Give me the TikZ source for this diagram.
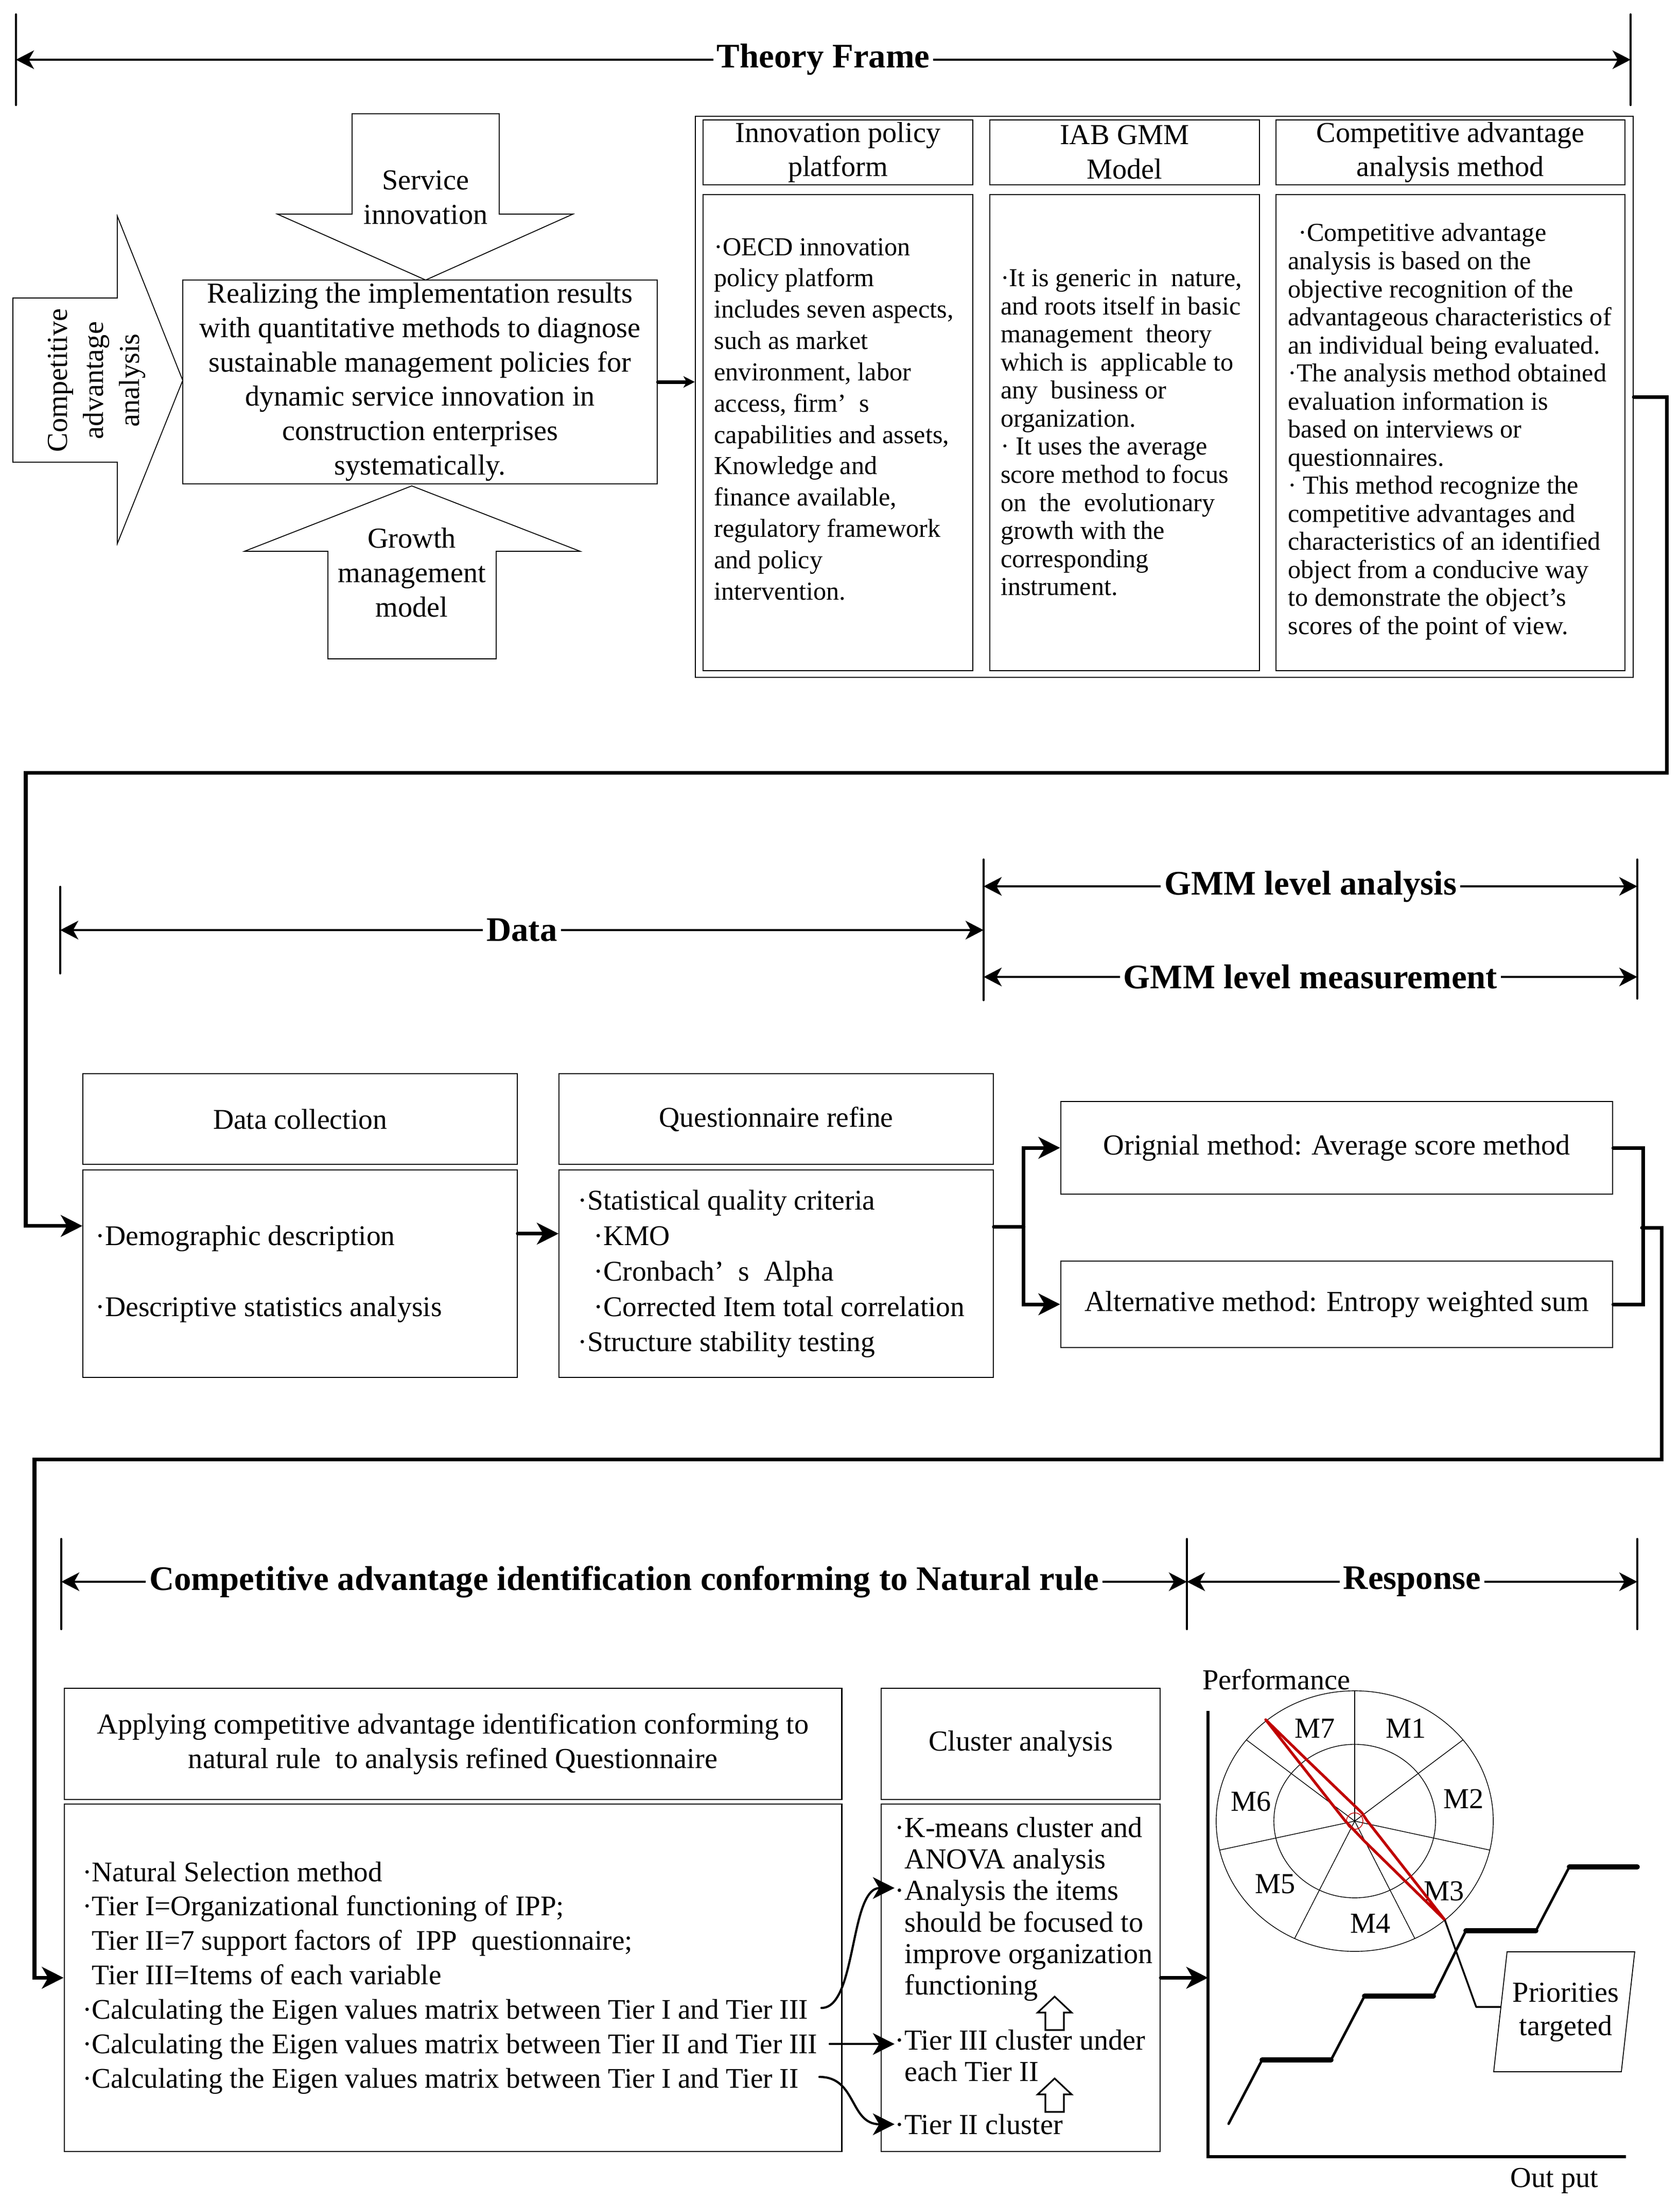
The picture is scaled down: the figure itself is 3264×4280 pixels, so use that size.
\documentclass[tikz,border=0pt]{standalone}
\usepackage{fontspec}
\setmainfont{Liberation Serif}
\usepackage{xcolor}
\usetikzlibrary{arrows.meta,positioning}
\definecolor{radarred}{RGB}{192,0,0}
\tikzset{font={\fontsize{16pt}{19pt}\selectfont}}

\begin{document}
\begin{tikzpicture}[x=0.01cm,y=-0.01cm,
    >={Stealth[length=0.42cm,width=0.42cm,inset=0.12cm]},
    box node/.style={draw,line width=0.6pt,inner sep=0pt,align=center},
    text node/.style={inner sep=0pt,align=left},
    top text/.style={text node,font={\fontsize{14.3pt}{17.3pt}\selectfont}},
    tight text/.style={text node,font={\fontsize{14.3pt}{15.5pt}\selectfont}},
    row text/.style={text node,font={\fontsize{15.8pt}{19.6pt}\selectfont}},
    ap text/.style={text node,font={\fontsize{15.7pt}{19pt}\selectfont}},
    cl text/.style={text node,font={\fontsize{16pt}{17.4pt}\selectfont}},
    conn/.style={line width=2pt,line cap=round},
    small tip/.style={->,>={Stealth[length=0.22cm,width=0.22cm,inset=0.06cm]}},
    curve/.style={line width=1.2pt,line cap=round},
    bar/.style={line width=1.2pt,line cap=round},
    dim/.style={line width=1.3pt,>={Stealth[length=0.35cm,width=0.36cm,inset=0.1cm]},<->},
    title node/.style={midway,fill=white,inner xsep=2pt,inner ysep=1pt,
      font={\fontsize{19pt}{22pt}\selectfont\bfseries}}]

\useasboundingbox (0,0) rectangle (3264,4280);

% theory frame
\coordinate (tf1) at (31,116);
\coordinate (tf2) at (3168,116);
\draw[bar] (31,28) -- (31,204) (3168,28) -- (3168,204);
\draw[dim] (tf1) -- (tf2) node[title node] (tf) {Theory Frame};

% block arrows round the main box
\draw[line width=0.5pt] (25,579) -- (228,579) -- (228,420) -- (355,739) -- (228,1056) -- (228,898) -- (25,898) -- cycle;
\node[rotate=90,inner sep=0pt,align=center,font={\fontsize{16pt}{20pt}\selectfont}] (caa) at (188,739) {Competitive\\advantage\\analysis};
\draw[line width=0.5pt] (684,221) -- (970,221) -- (970,416) -- (1113,416) -- (827,544) -- (539,416) -- (684,416) -- cycle;
\node[inner sep=0pt,align=center] (si) at (827,384) {Service\\innovation};
\draw[line width=0.5pt] (800,944) -- (1127,1071) -- (964,1071) -- (964,1280) -- (637,1280) -- (637,1071) -- (475,1071) -- cycle;
\node[inner sep=0pt,align=center] (gm) at (800,1112) {Growth\\management\\model};

\node[box node,minimum width=9.22cm,minimum height=3.95cm] (main) at (816,742)
  {Realizing the implementation results\\with quantitative methods to diagnose\\sustainable management policies for\\dynamic service innovation in\\construction enterprises\\systematically.};

% theory boxes
\node[box node,minimum width=18.21cm,minimum height=10.90cm] (frame) at (2262,771) {};
\node[box node,minimum width=5.24cm,minimum height=1.26cm] (ipphead) at (1628,296) {Innovation policy\\platform};
\node[box node,minimum width=5.23cm,minimum height=1.26cm] (iabhead) at (2185,296) {IAB GMM\\Model};
\node[box node,minimum width=6.78cm,minimum height=1.26cm] (camhead) at (2818,296) {Competitive advantage\\analysis method};
\node[box node,minimum width=5.24cm,minimum height=9.24cm,below=0.17cm of ipphead] (ippbody) {};
\node[box node,minimum width=5.23cm,minimum height=9.24cm,below=0.17cm of iabhead] (iabbody) {};
\node[box node,minimum width=6.78cm,minimum height=9.24cm,below=0.17cm of camhead] (cambody) {};

\node[top text,anchor=west] (ipptext) at ([xshift=0.22cm,yshift=0.26cm]ippbody.west)
  {·OECD innovation\\policy platform\\includes seven aspects,\\such as market\\environment, labor\\access, firm’\enspace s\\capabilities and assets,\\Knowledge and\\finance available,\\regulatory framework\\and policy\\intervention.};
\node[tight text,anchor=west] (iabtext) at ([xshift=0.21cm]iabbody.west)
  {·It is generic in\ \ nature,\\and roots itself in basic\\management\ \ theory\\which is\ \ applicable to\\any\ \ business or\\organization.\\· It uses the average\\score method to focus\\on\ \ the\ \ evolutionary\\growth with the\\corresponding\\instrument.};
\node[tight text,anchor=west] (camtext) at ([xshift=0.24cm,yshift=0.02cm]cambody.west)
  {\hspace*{0.2cm}·Competitive advantage\\analysis is based on the\\objective recognition of the\\advantageous characteristics of\\an individual being evaluated.\\·The analysis method obtained\\evaluation information is\\based on interviews or\\questionnaires.\\· This method recognize the\\competitive advantages and\\characteristics of an identified\\object from a conducive way\\to demonstrate the object’s\\scores of the point of view.};

\draw[conn,small tip] (main.east) -- (main.east -| frame.west);

% data and GMM level
\coordinate (d1) at (117,1807);
\coordinate (d2) at (1911,1807);
\coordinate (g1) at (1911,1722);
\coordinate (g2) at (3181,1722);
\coordinate (g3) at (1911,1898);
\coordinate (g4) at (3181,1898);
\draw[bar] (117,1723) -- (117,1891) (1911,1670) -- (1911,1943) (3181,1670) -- (3181,1940);
\draw[dim] (d1) -- (d2) node[title node] (data) {Data};
\draw[dim] (g1) -- (g2) node[title node] (gla) {GMM level analysis};
\draw[dim] (g3) -- (g4) node[title node] (glm) {GMM level measurement};

\node[box node,minimum width=8.43cm,minimum height=1.76cm,font={\fontsize{15.8pt}{19pt}\selectfont}] (dchead) at (583,2174) {Data collection};
\node[box node,minimum width=8.43cm,minimum height=4.03cm,below=0.09cm of dchead] (dcbody) {};
\node[row text,anchor=west] (dctext) at ([xshift=0.25cm]dcbody.west)
  {·Demographic description\\[19.6pt]·Descriptive statistics analysis};
\node[box node,minimum width=8.43cm,minimum height=1.76cm,font={\fontsize{15.8pt}{19pt}\selectfont}] (qhead) at (1508,2174) {Questionnaire refine};
\node[box node,minimum width=8.43cm,minimum height=4.03cm,below=0.09cm of qhead] (qbody) {};
\node[row text,anchor=west] (qtext) at ([xshift=0.37cm]qbody.west)
  {·Statistical quality criteria\\\hspace*{0.31cm}·KMO\\\hspace*{0.31cm}·Cronbach’\enspace s\ \ Alpha\\\hspace*{0.31cm}·Corrected Item total correlation\\·Structure stability testing};
\node[box node,minimum width=10.72cm,minimum height=1.80cm] (orig) at (2597,2230) {Orignial method: Average score method};
\node[box node,minimum width=10.72cm,minimum height=1.68cm] (alt) at (2597,2534) {Alternative method: Entropy weighted sum};

\coordinate (turn1) at (50,1501);
\draw[conn,->] (frame.east) -- ++(64,0) |- (turn1) |- ([yshift=0.93cm]dcbody.west);
\draw[conn,->] ([yshift=0.78cm]dcbody.east) -- ([yshift=0.78cm]qbody.west);
\coordinate (split) at ([xshift=0.58cm,yshift=0.91cm]qbody.east);
\draw[conn] ([yshift=0.91cm]qbody.east) -- (split);
\draw[conn,->] (split) |- (orig.west);
\draw[conn,->] (split) |- (alt.west);
\draw[conn] (orig.east) -- ++(58,0) |- (alt.east);

% identification and response
\coordinate (c1) at (119,3073);
\coordinate (c2) at (2306,3073);
\coordinate (c3) at (3181,3073);
\draw[bar] (119,2990) -- (119,3165) (2306,2990) -- (2306,3165) (3181,2990) -- (3181,3165);
\draw[dim] (c1) -- (c2) node[title node] (cai) {Competitive advantage identification conforming to Natural rule};
\draw[dim] (c2) -- (c3) node[title node] (resp) {Response};

\node[box node,minimum width=15.10cm,minimum height=2.16cm] (aphead) at (880,3388)
  {Applying competitive advantage identification conforming to\\natural rule\ \ to analysis refined Questionnaire};
\node[box node,minimum width=15.10cm,minimum height=6.74cm,below=0.07cm of aphead] (apbody) {};
\node[ap text,anchor=west] (aptext) at ([xshift=0.36cm]apbody.west)
  {·Natural Selection method\\·Tier I=Organizational functioning of IPP;\\\phantom{·}Tier II=7 support factors of\ \ IPP\ \ questionnaire;\\\phantom{·}Tier III=Items of each variable\\·Calculating the Eigen values matrix between Tier I and Tier III\\·Calculating the Eigen values matrix between Tier II and Tier III\\·Calculating the Eigen values matrix between Tier I and Tier II};
\node[box node,minimum width=5.42cm,minimum height=2.16cm] (clhead) at (1983,3388) {Cluster analysis};
\node[box node,minimum width=5.42cm,minimum height=6.74cm,below=0.07cm of clhead] (clbody) {};
\node[cl text,anchor=west] (cl1) at (1738,3709)
  {·K-means cluster and\\\phantom{·}ANOVA analysis\\·Analysis the items\\\phantom{·}should be focused to\\\phantom{·}improve organization\\\phantom{·}functioning};
\node[cl text,anchor=west] (cl2) at (1738,3994) {·Tier III cluster under\\\phantom{·}each Tier II};
\node[cl text,anchor=west] (cl3) at (1738,4127) {·Tier II cluster};

\coordinate (turn2) at (67,2835);
\coordinate (join) at (3190,2385);
\draw[conn,->] (join) -- ++(38,0) |- (turn2) |- (apbody.west);

\coordinate (e1) at (1596,3901);
\coordinate (e2) at (1612,3971);
\coordinate (e3) at (1592,4035);
\draw[curve,->] (e1) .. controls (1665,3901) and (1650,3668) .. ([yshift=0.41cm]cl1.west);
\draw[curve,->] (e2) -- (e2 -| cl2.west);
\draw[curve,->] (e3) .. controls (1665,4035) and (1650,4127) .. (cl3.west);
\foreach \t in {3879,4038}
  \draw[line width=0.9pt] (2049,\t) -- ++(33,31) -- ++(-15,0) -- ++(0,34) -- ++(-36,0) -- ++(0,-34) -- ++(-15,0) -- cycle;

% response chart
\coordinate (o) at (2347,4190);
\draw[conn,->] (clbody.east) -- (clbody.east -| o);
\draw[line width=1.6pt] (2347,3324) -- (o) -- (3159,4190);
\node[inner sep=0pt] (perf) at (2480,3263) {Performance};
\node[inner sep=0pt] (outp) at (3020,4237) {Out put};

\coordinate (rc) at (2632,3538);
\draw[line width=0.4pt] (rc) ellipse [x radius=2.69cm,y radius=2.53cm];
\draw[line width=0.4pt] (rc) ellipse [x radius=1.57cm,y radius=1.49cm];
\foreach \k in {0,...,6}
  \draw[line width=0.4pt] (rc) -- ({2632+269*cos(90-\k*360/7)},{3538-253*sin(90-\k*360/7)});
\foreach \m/\x/\y in {M1/2732/3358,M2/2844/3495,M3/2806/3674,M4/2663/3737,M5/2478/3660,M6/2431/3500,M7/2555/3358}
  \node[inner sep=0pt] (\m) at (\x,\y) {\m};
\draw[radarred,line width=1.5pt,line join=round] (2459,3341) -- (2540,3420) -- (2646,3522) -- (2656,3537) -- (2807,3730) -- (2651,3577) -- (2613,3537) -- cycle;
\draw[radarred,line width=0.4pt] (rc) circle [radius=0.16cm];

\draw[line width=1.4pt,line join=round,line cap=round] (2387,4126) -- (2452,4002) -- (2586,4002) -- (2651,3878) -- (2785,3878) -- (2848,3751) -- (2984,3751) -- (3049,3627) -- (3181,3627);
\foreach \a/\b/\y in {2452/2586/4002,2651/2785/3878,2848/2984/3751,3049/3181/3627}
  \draw[line width=2.8pt,line cap=round] (\a,\y) -- (\b,\y);

\draw[line width=0.5pt] (2928,3792) -- (3176,3792) -- (3150,4025) -- (2902,4025) -- cycle;
\node[inner sep=0pt,align=center,font={\fontsize{16pt}{18.5pt}\selectfont}] (prio) at (3042,3909) {Priorities\\targeted};
\draw[line width=1pt,line join=round] (2807,3730) -- (2868,3899) -- (2916,3899);
\end{tikzpicture}
\end{document}
